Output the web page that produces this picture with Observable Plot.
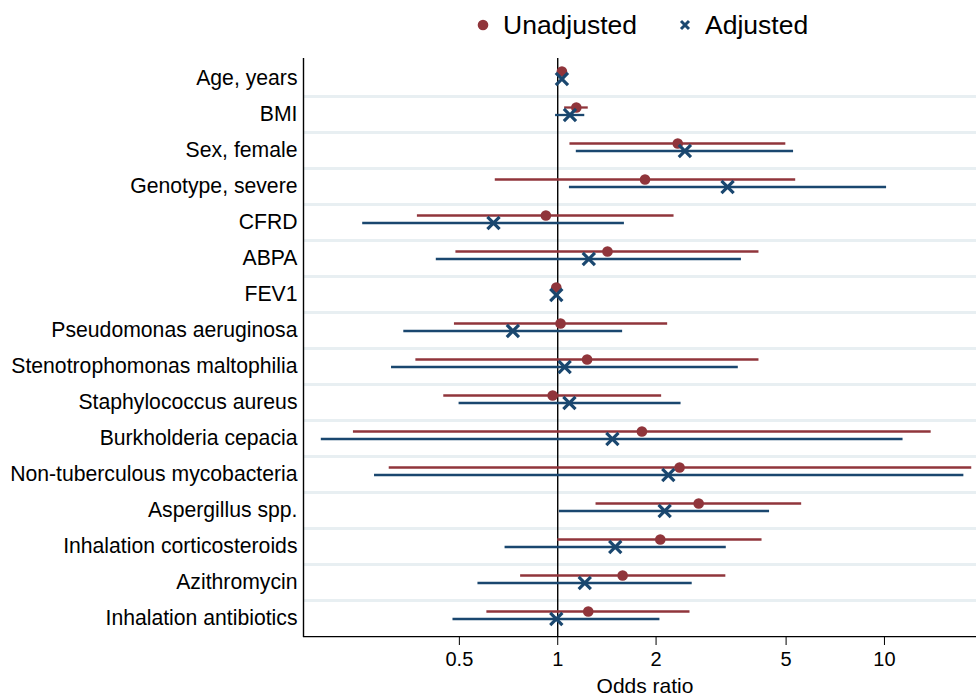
<!DOCTYPE html>
<html>
<head>
<meta charset="utf-8">
<script src="https://cdn.jsdelivr.net/npm/d3@7"></script>
<script src="https://cdn.jsdelivr.net/npm/@observablehq/plot@0.6"></script>
<style>
  html, body { margin: 0; padding: 0; background: #fff; }
  body { width: 976px; font-family: Arial, "Liberation Sans", sans-serif; }
  #legend { height: 50px; position: relative; font-size: 26.5px; color: #000; }
  #legend .item { position: absolute; top: 0; height: 50px; display: flex; align-items: center; }
  #legend svg { margin-right: 8px; }
  #chart svg { display: block; overflow: visible; }
</style>
</head>
<body>
<div id="legend"></div>
<div id="chart"></div>
<script>
const categories = [
  "Age, years", "BMI", "Sex, female", "Genotype, severe", "CFRD", "ABPA", "FEV1",
  "Pseudomonas aeruginosa", "Stenotrophomonas maltophilia", "Staphylococcus aureus",
  "Burkholderia cepacia", "Non-tuberculous mycobacteria", "Aspergillus spp.",
  "Inhalation corticosteroids", "Azithromycin", "Inhalation antibiotics"
];
const unadjOR = [1.03, 1.14, 2.33, 1.85, 0.92, 1.42, 0.99, 1.02, 1.23, 0.965, 1.81, 2.36, 2.70, 2.06, 1.58, 1.24];
const unadjLo = [1.02, 1.05, 1.09, 0.644, 0.372, 0.488, 0.98, 0.483, 0.368, 0.448, 0.237, 0.305, 1.31, 1.00, 0.77, 0.607];
const unadjHi = [1.05, 1.24, 4.99, 5.35, 2.27, 4.13, 1.00, 2.17, 4.13, 2.08, 13.9, 18.5, 5.58, 4.22, 3.27, 2.54];
const adjOR = [1.03, 1.09, 2.45, 3.31, 0.636, 1.245, 0.99, 0.729, 1.05, 1.086, 1.47, 2.18, 2.125, 1.50, 1.21, 0.99];
const adjLo = [1.02, 0.985, 1.14, 1.086, 0.253, 0.425, 0.98, 0.338, 0.31, 0.499, 0.189, 0.275, 1.012, 0.69, 0.57, 0.478];
const adjHi = [1.05, 1.21, 5.27, 10.15, 1.60, 3.65, 1.00, 1.58, 3.57, 2.385, 11.4, 17.5, 4.45, 3.28, 2.58, 2.055];
const xTicks = [0.5, 1, 2, 5, 10];
const seriesNames = ["Unadjusted", "Adjusted"];
const seriesColors = ["#90353b", "#1a476f"];

const unadj = categories.map((c, i) => ({cat: c, or: unadjOR[i], lo: unadjLo[i], hi: unadjHi[i]}));
const adj = categories.map((c, i) => ({cat: c, or: adjOR[i], lo: adjLo[i], hi: adjHi[i]}));

const W = 976, H = 645, mT = 8, mB = 58;
const bw = (H - mT - mB) / categories.length;
const font = "Arial, 'Liberation Sans', sans-serif";

const plot = Plot.plot({
  width: W,
  height: H,
  marginTop: mT,
  marginBottom: mB,
  marginLeft: 303,
  marginRight: 0,
  style: {fontFamily: font, background: "#fff", color: "#000"},
  x: {type: "log", domain: [0.1667, 19.13], range: [303, 976]},
  y: {type: "band", domain: categories, padding: 0},
  marks: [
    Plot.ruleY(categories.slice(1), {dy: -bw / 2, stroke: "#e8eff2", strokeWidth: 3}),
    Plot.ruleX([1], {stroke: "#000", strokeWidth: 1.4}),
    Plot.ruleY(unadj, {y: "cat", x1: "lo", x2: "hi", dy: -7, stroke: seriesColors[0], strokeWidth: 2.3}),
    Plot.ruleY(adj, {y: "cat", x1: "lo", x2: "hi", dy: 0.5, stroke: seriesColors[1], strokeWidth: 2.3}),
    Plot.dot(unadj, {y: "cat", x: "or", dy: -7, r: 5.3, fill: seriesColors[0], symbol: "circle"}),
    Plot.dot(adj, {y: "cat", x: "or", dy: 0.5, r: 5.6, stroke: seriesColors[1], strokeWidth: 3.2, symbol: "times"}),
    Plot.ruleX([0.1667], {stroke: "#000", strokeWidth: 1.4}),
    Plot.ruleY([categories[categories.length - 1]], {dy: bw / 2, stroke: "#000", strokeWidth: 1.4}),
    Plot.axisX({ticks: xTicks, tickFormat: d => String(d), tickSize: 8, tickPadding: 6, fontSize: 20, label: "Odds ratio", labelAnchor: "center", labelArrow: "none", labelOffset: 55, stroke: "#000"}),
    Plot.axisY({tickSize: 0, tickPadding: 6, fontSize: 21.2, label: null})
  ]
});
document.getElementById("chart").appendChild(plot);
plot.querySelectorAll("[aria-label='x-axis label'] text").forEach(t => { t.setAttribute("font-size", 21); t.setAttribute("dx", 5); });

// Legend
const legend = document.getElementById("legend");
const legendX = [476, 678];
seriesNames.forEach((name, i) => {
  const item = document.createElement("div");
  item.className = "item";
  item.style.left = legendX[i] + "px";
  const ns = "http://www.w3.org/2000/svg";
  const s = document.createElementNS(ns, "svg");
  s.setAttribute("width", 14); s.setAttribute("height", 14);
  if (i === 0) {
    const c = document.createElementNS(ns, "circle");
    c.setAttribute("cx", 7); c.setAttribute("cy", 7); c.setAttribute("r", 5.3);
    c.setAttribute("fill", seriesColors[0]);
    s.appendChild(c);
  } else {
    const p = document.createElementNS(ns, "path");
    p.setAttribute("d", "M3,3L11,11M11,3L3,11");
    p.setAttribute("stroke", seriesColors[1]); p.setAttribute("stroke-width", 3);
    s.appendChild(p);
  }
  item.appendChild(s);
  const t = document.createElement("span");
  t.textContent = name;
  t.style.marginLeft = "5px";
  item.appendChild(t);
  legend.appendChild(item);
});
</script>
</body>
</html>
